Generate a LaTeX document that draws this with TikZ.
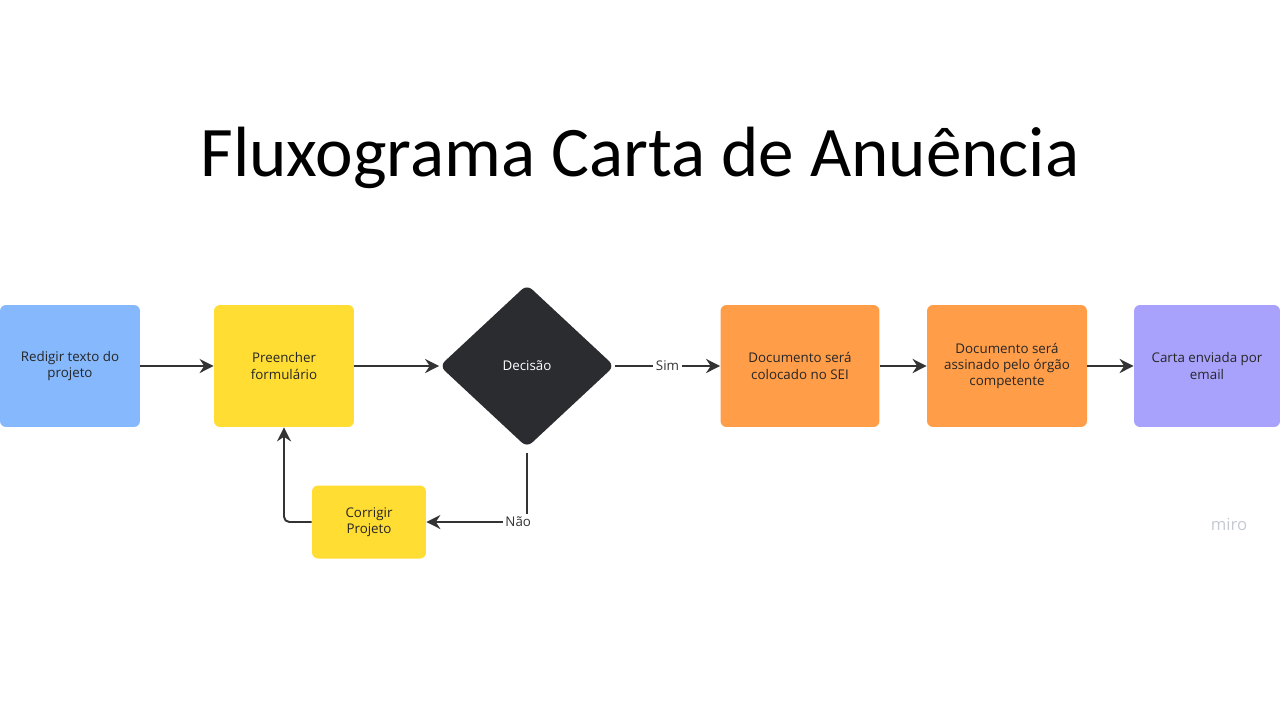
\documentclass[tikz,border=0pt]{standalone}
\usepackage{fontspec}
\setmainfont{Open Sans}
\newfontfamily\titlefont{Carlito}
\usetikzlibrary{positioning,shapes.geometric,arrows.meta}

\definecolor{boxblue}{HTML}{85B8FD}
\definecolor{boxyellow}{HTML}{FFDD33}
\definecolor{boxorange}{HTML}{FF9D48}
\definecolor{boxpurple}{HTML}{A9A2FC}
\definecolor{decdark}{HTML}{2B2C30}
\definecolor{linkgray}{HTML}{333333}
\definecolor{mirogray}{HTML}{C5C9D3}

\tikzset{
    stepbox/.style={rectangle, rounded corners=0.12cm, draw=none, align=center,
        minimum width=2.8cm, minimum height=2.44cm,
        font=\fontsize{7.6}{9.2}\selectfont, text=black!85},
    decbox/.style={diamond, rounded corners=0.14cm, fill=decdark, text=white,
        minimum width=3.5cm, minimum height=3.26cm, inner sep=0pt,
        font=\fontsize{7.6}{9.2}\selectfont},
    link/.style={draw=linkgray, line width=1.1pt, -{Stealth[length=8pt,width=8pt]}},
    linklabel/.style={fill=white, inner sep=1.5pt, text=black!80,
        font=\fontsize{7.6}{9.2}\selectfont}
}

\begin{document}
\begin{tikzpicture}[x=0.02cm, y=-0.02cm]
    \useasboundingbox (0,0) rectangle (1280,720);

    % Title
    \node (title) at (640,158) {\titlefont\fontsize{40.5}{44}\selectfont Fluxograma Carta de Anuência};

    % Steps
    \node[stepbox, fill=boxblue] (redigir) at (70,366) {Redigir texto do\\projeto};
    \node[stepbox, fill=boxyellow] (preencher) at (284,366) {Preencher\\formulário};
    \node[decbox] (decisao) at (527,366) {Decisão};
    \node[stepbox, fill=boxorange, minimum width=3.18cm] (sei) at (800,366) {Documento será\\colocado no SEI};
    \node[stepbox, fill=boxorange, minimum width=3.2cm] (assinado) at (1007,366) {Documento será\\assinado pelo órgão\\competente};
    \node[stepbox, fill=boxpurple, minimum width=2.92cm] (carta) at (1207,366) {Carta enviada por\\email};
    \node[stepbox, fill=boxyellow, minimum width=2.28cm, minimum height=1.46cm] (corrigir) at (369,522) {Corrigir\\Projeto};

    % Watermark
    \node[text=mirogray, font=\fontsize{9.5}{10}\selectfont] (miro) at (1229,524) {miro};

    % Connectors
    \draw[link] (redigir) -- (preencher);
    \draw[link] (preencher) -- (decisao);
    \draw[link] (decisao) -- node[linklabel] {Sim} (sei);
    \draw[link] (sei) -- (assinado);
    \draw[link] (assinado) -- (carta);
    \draw[link, shorten <=3pt] (decisao.south) |- node[linklabel, pos=0.5, xshift=-5pt] {Não} (corrigir.east);
    \draw[link, rounded corners=3pt] (corrigir.west) -| (preencher.south);
\end{tikzpicture}
\end{document}
